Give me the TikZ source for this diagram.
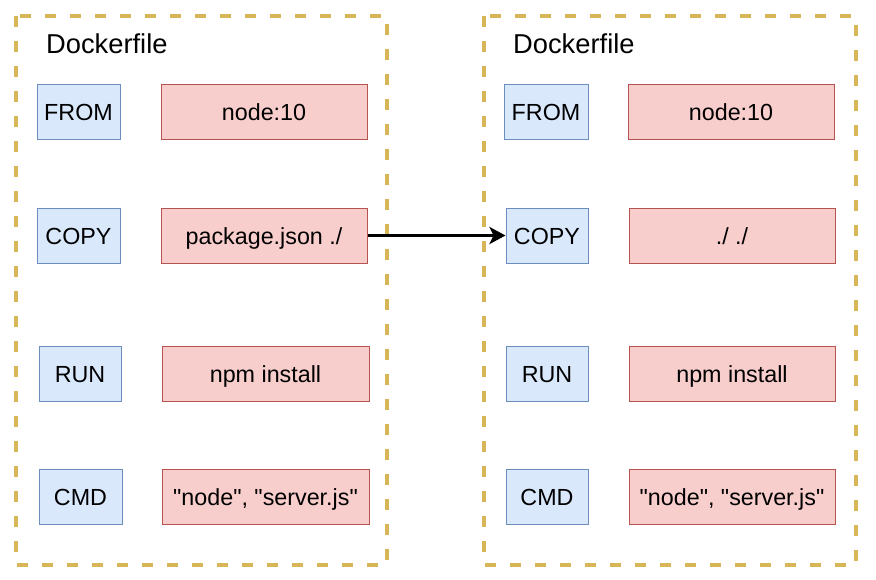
\documentclass[tikz,border=0pt]{standalone}
\usepackage{fontspec}
\setmainfont{Liberation Sans}
\newfontfamily\plainfont{Liberation Sans}
\usetikzlibrary{arrows.meta}
\definecolor{bfill}{HTML}{DAE8FC}
\definecolor{bdraw}{HTML}{6C8EBF}
\definecolor{rfill}{HTML}{F8CECC}
\definecolor{rdraw}{HTML}{B85450}
\definecolor{ydraw}{HTML}{D6B656}
\begin{document}
\begin{tikzpicture}[x=1pt,y=-1pt,
  container/.style={draw=ydraw,line width=3.5pt,dash pattern=on 11pt off 14pt},
  boxbase/.style={line width=1pt,inner sep=0pt,minimum height=55pt,text height=18pt,text depth=0pt,font=\plainfont\fontsize{23.3}{28}\selectfont},
  kw/.style={boxbase,draw=bdraw,fill=bfill},
  val/.style={boxbase,draw=rdraw,fill=rfill},
  title/.style={anchor=base west,inner sep=0pt,font=\fontsize{27.3}{32}\selectfont},
  link/.style={line width=3.5pt,-{Stealth[length=16pt,width=17pt,inset=4pt]}}]
\useasboundingbox (0,0) rectangle (876,579);
\draw[container] (16,16) rectangle (387,565);
\draw[container] (484,16) rectangle (856,565);
\node[title] (t1) at (46,53) {Dockerfile};
\node[title] (t2) at (513,53) {Dockerfile};
% left
\node[kw,minimum width=83pt] (from1) at (78.5,111.5) {FROM};
\node[val,minimum width=206pt] (from1v) at (264,111.5) {node:10};
\node[kw,minimum width=83pt] (copy1) at (78.5,235.5) {COPY};
\node[val,minimum width=206pt] (copy1v) at (264,235.5) {package.json ./};
\node[kw,minimum width=82pt] (run1) at (80,373.5) {RUN};
\node[val,minimum width=207pt] (run1v) at (265.5,373.5) {npm install};
\node[kw,minimum width=83pt] (cmd1) at (80.5,496.5) {CMD};
\node[val,minimum width=207pt] (cmd1v) at (265.5,496.5) {"node", "server.js"};
% right
\node[kw,minimum width=84pt] (from2) at (546,111.5) {FROM};
\node[val,minimum width=206pt] (from2v) at (731,111.5) {node:10};
\node[kw,minimum width=82pt] (copy2) at (547,235.5) {COPY};
\node[val,minimum width=206pt] (copy2v) at (732,235.5) {./ ./};
\node[kw,minimum width=82pt] (run2) at (547,373.5) {RUN};
\node[val,minimum width=206pt] (run2v) at (732,373.5) {npm install};
\node[kw,minimum width=82pt] (cmd2) at (547,496.5) {CMD};
\node[val,minimum width=206pt] (cmd2v) at (732,496.5) {"node", "server.js"};
\draw[link] (copy1v.east) -- (copy2.west);
\end{tikzpicture}
\end{document}
